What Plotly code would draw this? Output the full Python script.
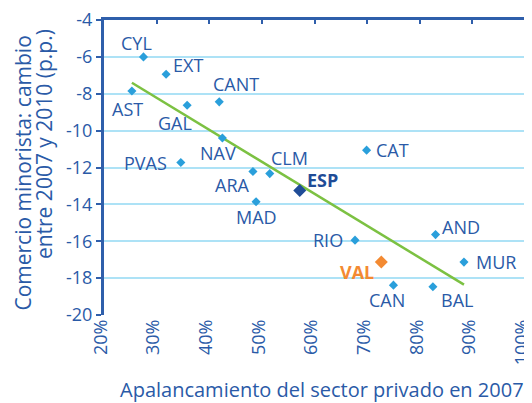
import numpy as np
import plotly.graph_objects as go

# ---- data ----
regions = ["CYL", "EXT", "AST", "GAL", "CANT", "NAV", "PVAS", "ARA", "CLM", "MAD",
           "CAT", "RIO", "AND", "MUR", "CAN", "BAL", "VAL"]
leverage = [27.5, 31.8, 25.3, 35.8, 41.9, 42.5, 34.6, 48.3, 51.5, 48.9,
            69.9, 67.7, 83.0, 88.4, 75.0, 82.5, 72.7]
retail_change = [-6.0, -6.94, -7.85, -8.62, -8.44, -10.4, -11.73, -12.22, -12.33, -13.86,
                 -11.06, -15.94, -15.64, -17.13, -18.38, -18.47, -17.12]
esp_label = "ESP"
esp_leverage = [57.2]
esp_change = [-13.25]
x_ticks = [20, 30, 40, 50, 60, 70, 80, 90, 100]
x_tick_labels = ["20%", "30%", "40%", "50%", "60%", "70%", "80%", "90%", "100%"]
y_ticks = [-4, -6, -8, -10, -12, -14, -16, -18, -20]
y_tick_labels = ["-4", "-6", "-8", "-10", "-12", "-14", "-16", "-18", "-20"]

# ---- styles ----
TXT = "#2a5aa7"
AXIS = "#2f5fab"
GRID = "#ade2f6"
MK = "#2a9fdb"
ESPC = "#1f4c97"
VALC = "#f38a32"
GREEN = "#7cc142"
FONT = "Open Sans"

# label offsets in pixels (xshift, yshift, xanchor)
offsets = {
    "CYL": (-7, 14, "center"), "EXT": (22, 9, "center"), "AST": (-4, -18, "center"),
    "GAL": (-12, -18, "center"), "CANT": (17, 18, "center"), "NAV": (-4, -15, "center"),
    "PVAS": (-12, 0, "right"), "ARA": (-21, -13, "center"), "CLM": (20, 16, "center"),
    "MAD": (0, -15, "center"), "CAT": (7, 0, "left"), "RIO": (-10, 0, "right"),
    "AND": (25, 8, "center"), "MUR": (10, 0, "left"), "CAN": (-6, -15, "center"),
    "BAL": (24, -13, "center"), "VAL": (-24, -10, "center"),
}

fig = go.Figure()

# trend line (least squares over the regions)
xs = np.array(leverage)
ys = np.array(retail_change)
slope, intercept = np.polyfit(xs, ys, 1)
tx = np.array([xs.min(), xs.max()])
fig.add_trace(go.Scatter(x=tx, y=slope * tx + intercept, mode="lines",
                         line=dict(color=GREEN, width=2.5), hoverinfo="skip",
                         showlegend=False))

colors = [VALC if r == "VAL" else MK for r in regions]
sizes = [10 if r == "VAL" else 7 for r in regions]
fig.add_trace(go.Scatter(x=leverage, y=retail_change, mode="markers", text=regions,
                         marker=dict(symbol="diamond", color=colors, size=sizes, opacity=1,
                                     line=dict(width=0)),
                         showlegend=False))
fig.add_trace(go.Scatter(x=esp_leverage, y=esp_change, mode="markers", text=[esp_label],
                         marker=dict(symbol="diamond", color=ESPC, size=10, opacity=1,
                                     line=dict(width=0)),
                         showlegend=False))
# invisible trace for the top axis
fig.add_trace(go.Scatter(x=[x_ticks[0]], y=[y_ticks[0]], xaxis="x2", mode="markers",
                         marker=dict(opacity=0), hoverinfo="skip", showlegend=False))

annotations = []
for r, xv, yv in zip(regions, leverage, retail_change):
    dx, dy, anc = offsets[r]
    if r == "VAL":
        txt, col = "<b>VAL</b>", VALC
    else:
        txt, col = r, TXT
    annotations.append(dict(x=xv, y=yv, xref="x", yref="y", text=txt, showarrow=False,
                            xshift=dx, yshift=dy, xanchor=anc, yanchor="middle",
                            font=dict(family=FONT, size=18, color=col)))
annotations.append(dict(x=esp_leverage[0], y=esp_change[0], xref="x", yref="y",
                        text="<b>" + esp_label + "</b>", showarrow=False,
                        xshift=23, yshift=11, xanchor="center", yanchor="middle",
                        font=dict(family=FONT, size=18, color=ESPC)))
# axis titles
annotations.append(dict(x=-0.192, y=0.48, xref="paper", yref="paper",
                        text="Comercio minorista: cambio", textangle=-90, showarrow=False,
                        xanchor="center", yanchor="middle",
                        font=dict(family=FONT, size=21, color=TXT)))
annotations.append(dict(x=-0.142, y=0.58, xref="paper", yref="paper",
                        text="entre 2007 y 2010 (p.p.)", textangle=-90, showarrow=False,
                        xanchor="center", yanchor="middle",
                        font=dict(family=FONT, size=21, color=TXT)))
annotations.append(dict(x=0.519, y=-0.252, xref="paper", yref="paper",
                        text="Apalancamiento del sector privado en 2007", showarrow=False,
                        xanchor="center", yanchor="middle",
                        font=dict(family=FONT, size=20, color=TXT)))

fig.update_layout(
    width=524, height=395,
    margin=dict(l=96, r=7, t=12, b=88, autoexpand=False),
    paper_bgcolor="white", plot_bgcolor="white",
    showlegend=False,
    annotations=annotations,
    xaxis=dict(range=[20, 100], tickvals=x_ticks, ticktext=x_tick_labels, tickangle=-90,
               showgrid=False, zeroline=False, showline=False, ticks="", automargin=False,
               ticklabeloverflow="allow", ticklabelshift=-3,
               tickfont=dict(family=FONT, size=18, color=TXT)),
    xaxis2=dict(range=[20, 100], tickvals=x_ticks, overlaying="x", side="top",
                showticklabels=False, showgrid=False, zeroline=False, automargin=False,
                showline=True, linecolor=AXIS, linewidth=3,
                ticks="inside", ticklen=4, tickwidth=1.5, tickcolor=AXIS),
    yaxis=dict(range=[-20, -4], tickvals=y_ticks, ticktext=y_tick_labels, showgrid=True,
               gridcolor=GRID, automargin=False, ticklabeloverflow="allow",
               gridwidth=1.5, zeroline=False, showline=True, linecolor=AXIS,
               linewidth=3, ticks="outside", ticklen=5, tickwidth=1.5, tickcolor=AXIS,
               tickfont=dict(family=FONT, size=18, color=TXT)),
)

fig.write_html("out.html")
